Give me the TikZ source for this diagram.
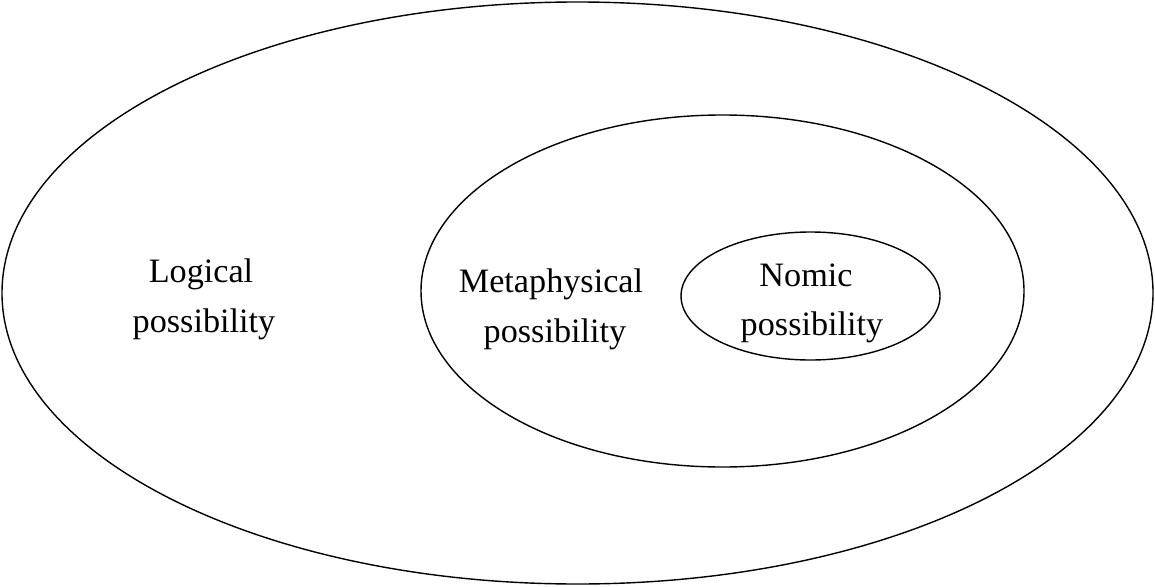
\documentclass[tikz,border=0pt]{standalone}
\usepackage{fontspec}
\setmainfont{Liberation Serif}
\begin{document}
\begin{tikzpicture}[x=1pt,y=-1pt,
  region/.style={draw=black,line width=1.4pt},
  lbl/.style={anchor=base,inner sep=0pt,font=\fontsize{34.2}{40}\selectfont}]
\useasboundingbox (0,0) rectangle (1155,586);
\draw[region] (577.5,293) ellipse [x radius=575.5, y radius=291];
\draw[region] (722.5,291) ellipse [x radius=301.5, y radius=176];
\draw[region] (810.5,296) ellipse [x radius=129.5, y radius=64];
\node[lbl] (log1) at (201,282) {Logical};
\node[lbl] (log2) at (204,332) {possibility};
\node[lbl] (met1) at (551,292) {Metaphysical};
\node[lbl] (met2) at (555,342) {possibility};
\node[lbl] (nom1) at (806,286) {Nomic};
\node[lbl] (nom2) at (812,335) {possibility};
\end{tikzpicture}
\end{document}
